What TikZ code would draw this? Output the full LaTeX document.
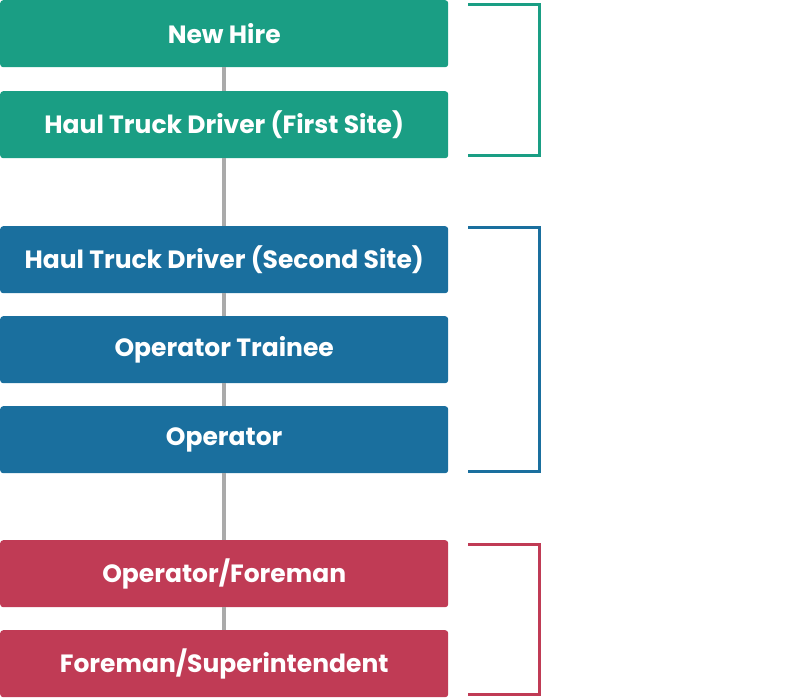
\documentclass[tikz,border=0pt]{standalone}
\usepackage{fontspec}
\setmainfont{Poppins}
\definecolor{earlygreen}{HTML}{1A9E84}
\definecolor{expblue}{HTML}{1A6F9E}
\definecolor{mgmtred}{HTML}{C03B55}
\definecolor{linkgray}{HTML}{AAAAAA}
\tikzset{
  stage/.style={rectangle, rounded corners=3pt, minimum width=448pt, minimum height=67pt,
    anchor=north west, inner sep=0pt, text=white, font=\bfseries\fontsize{25}{28}\selectfont},
  link/.style={draw=linkgray, line width=4pt},
  bracket/.style={line width=3pt},
  phase/.style={anchor=west, inner sep=0pt, text=white, font=\fontsize{20}{24}\selectfont}
}
\begin{document}
\begin{tikzpicture}[x=1pt, y=-1pt]
            \useasboundingbox (0,0) rectangle (800,697);

            % Early
            \node[stage, fill=earlygreen] (newhire) at (0,0) {New Hire};
            \node[stage, fill=earlygreen] (haulfirst) at (0,91) {Haul Truck Driver (First Site)};

            % Experienced
            \node[stage, fill=expblue] (haulsecond) at (0,226) {Haul Truck Driver (Second Site)};
            \node[stage, fill=expblue] (trainee) at (0,316) {Operator Trainee};
            \node[stage, fill=expblue] (operator) at (0,406) {Operator};

            % Site Management
            \node[stage, fill=mgmtred] (opforeman) at (0,540) {Operator/Foreman};
            \node[stage, fill=mgmtred] (superint) at (0,630) {Foreman/Superintendent};

            % Verbindingslijnen tussen de stappen
            \draw[link] (newhire) -- (haulfirst);
            \draw[link] (haulfirst) -- (haulsecond);
            \draw[link] (haulsecond) -- (trainee);
            \draw[link] (trainee) -- (operator);
            \draw[link] (operator) -- (opforeman);
            \draw[link] (opforeman) -- (superint);

            % Haken met fase-namen
            \draw[bracket, earlygreen] (468,4) -| (539,155) -- (468,155);
            \node[phase] (early) at (562,72) {Early};
            \draw[bracket, expblue] (468,227) -| (539,471) -- (468,471);
            \node[phase] (experienced) at (580,342) {Experienced};
            \draw[bracket, mgmtred] (468,544) -| (539,694) -- (468,694);
            \node[phase] (sitemgmt) at (583,607) {Site Management};
        \end{tikzpicture}
\end{document}
